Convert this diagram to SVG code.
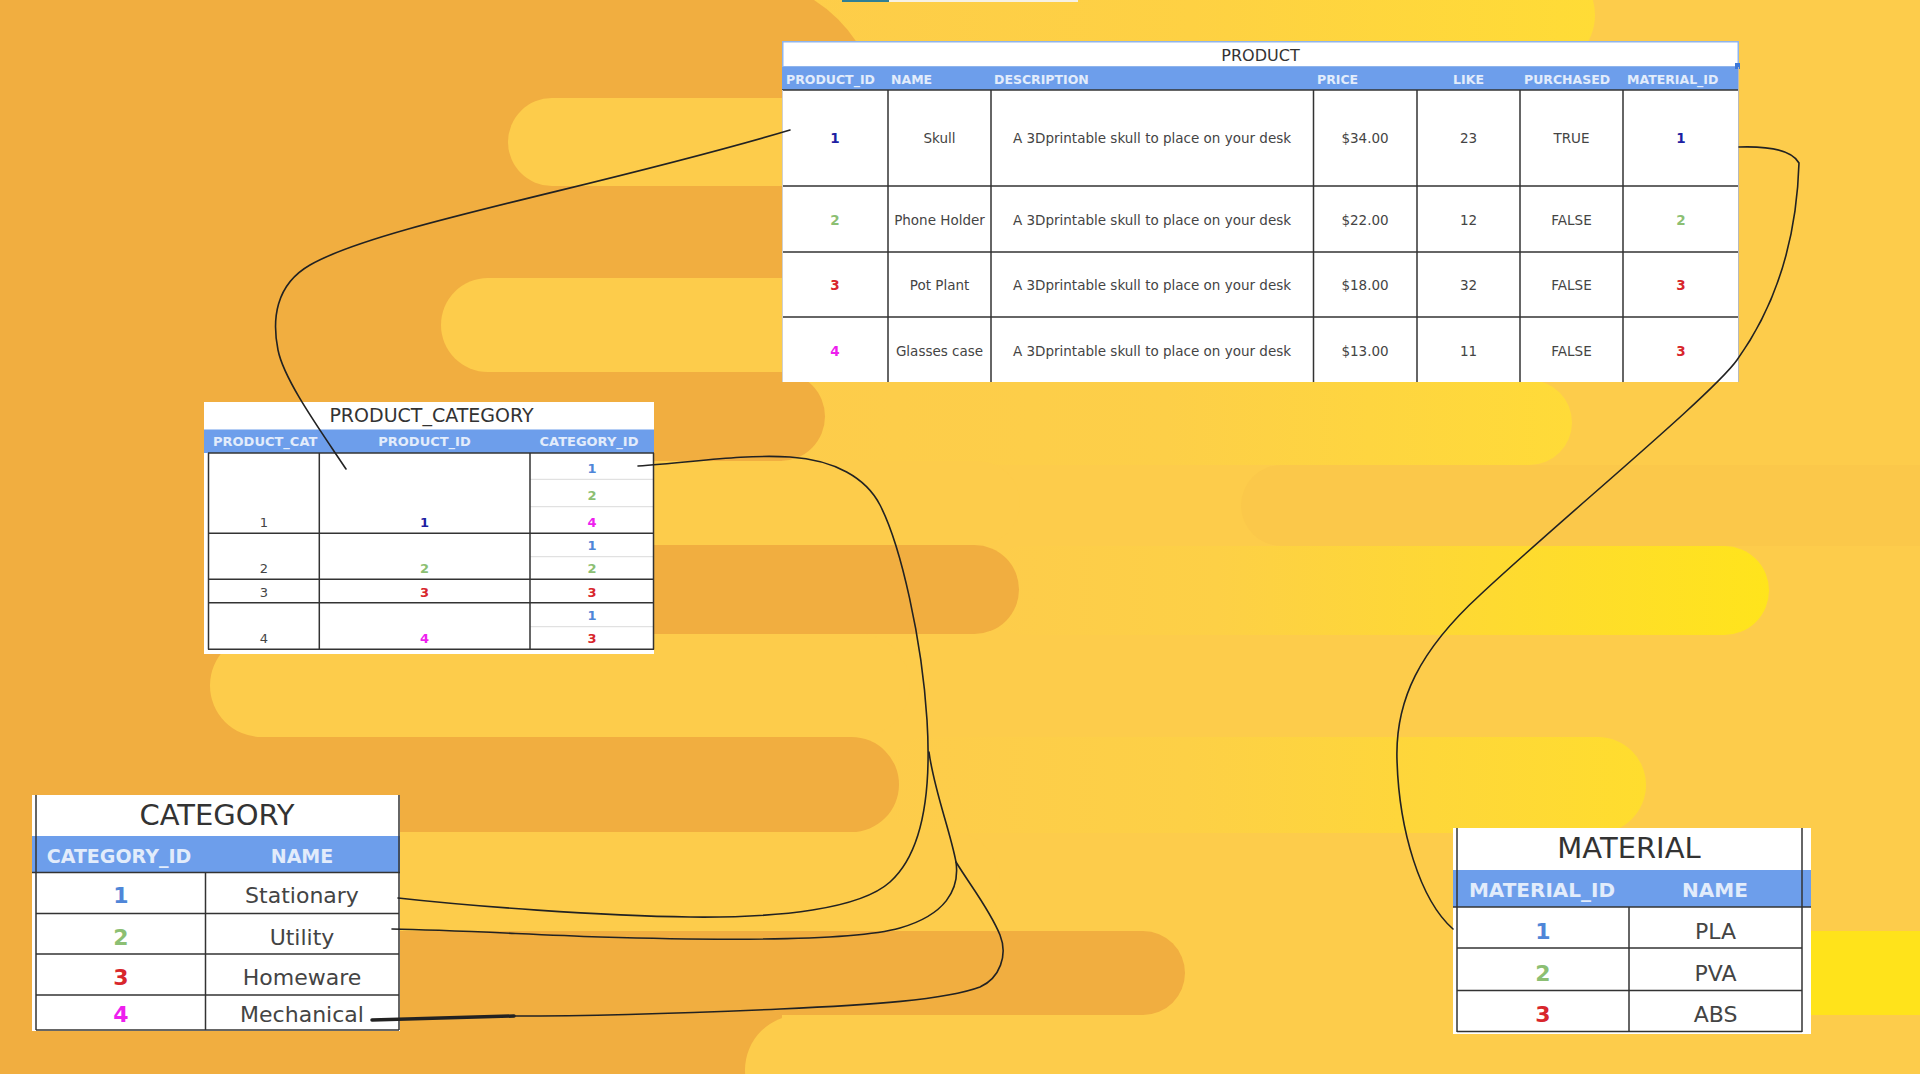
<svg xmlns="http://www.w3.org/2000/svg" width="1920" height="1074" viewBox="0 0 1920 1074">
<defs>
<style>
.t{font-family:"DejaVu Sans",Verdana,sans-serif}
.hdr{font-family:"DejaVu Sans",Verdana,sans-serif;font-weight:bold;fill:#e2ecfb}
.cell{font-family:"DejaVu Sans",Verdana,sans-serif;fill:#444}
.ttl{font-family:"DejaVu Sans",Verdana,sans-serif;fill:#333}
.id{font-family:"DejaVu Sans",Verdana,sans-serif;font-weight:bold}
.b1{fill:#1f1fa3}.lb{fill:#4f86d8}.g{fill:#8cbf73}.r{fill:#d8262c}.m{fill:#ee1fee}
.grid{stroke:#333;stroke-width:1.5;fill:none}
.thin{stroke:#555;stroke-width:1;fill:none}
.lgrid{stroke:#dadada;stroke-width:1;fill:none}
.band{fill:#6d9eeb}
.conn{fill:none;stroke:#222;stroke-width:1.6;stroke-linecap:round;stroke-linejoin:round}
.thick{stroke-width:3.5}
.ye{fill:#fdcc4b}.or{fill:#f1ae40}
</style>
<linearGradient id="gTop" x1="0" x2="1" y1="0" y2="0"><stop offset="0" stop-color="#fdcc4b"/><stop offset="0.55" stop-color="#fed143"/><stop offset="1" stop-color="#ffdc36"/></linearGradient>
<linearGradient id="gG1" x1="0" x2="1" y1="0" y2="0"><stop offset="0" stop-color="#fdcc4b"/><stop offset="0.5" stop-color="#fdcf48"/><stop offset="1" stop-color="#ffdb38"/></linearGradient>
<linearGradient id="gG3" x1="0" x2="1" y1="0" y2="0"><stop offset="0" stop-color="#fdcc4b"/><stop offset="0.3" stop-color="#fdd046"/><stop offset="1" stop-color="#ffe41c"/></linearGradient>
<linearGradient id="gG4" x1="0" x2="1" y1="0" y2="0"><stop offset="0" stop-color="#fdcc4b"/><stop offset="0.4" stop-color="#fdd046"/><stop offset="1" stop-color="#ffdd2e"/></linearGradient>
<clipPath id="clipPC"><rect x="209" y="430" width="109" height="23"/></clipPath>
</defs>

<g id="background">
<rect x="0" y="0" width="1920" height="1074" class="ye"/>
<rect x="700" y="-40" width="895" height="110" rx="55" fill="url(#gTop)"/>
<rect x="760" y="380" width="812" height="85" rx="42.5" fill="url(#gG1)"/>
<rect x="1241" y="465" width="800" height="81" rx="40.5" fill="#fbc84a"/>
<rect x="980" y="546" width="789" height="89" rx="44.5" fill="url(#gG3)"/>
<rect x="880" y="737" width="766" height="96" rx="48" fill="url(#gG4)"/>
<rect x="1760" y="931" width="300" height="84" rx="42" fill="#ffe31b"/>
<path class="or" d="M0,0 H814 A142,142 0 0 1 878,98 V186 H0 Z"/>
<rect x="0" y="0" width="782" height="1074" class="or"/>
<rect x="508" y="98" width="400" height="88" rx="44" class="ye"/>
<rect x="441" y="278" width="400" height="94" rx="47" class="ye"/>
<rect x="420" y="461" width="600" height="84" rx="42" class="ye"/>
<rect x="210" y="634" width="700" height="103" rx="51.5" class="ye"/>
<rect x="300" y="832" width="700" height="99" rx="49.5" class="ye"/>
<rect x="745" y="1015" width="1300" height="110" rx="55" class="ye"/>
<rect x="-100" y="372" width="925" height="89" rx="44.5" class="or"/>
<rect x="-100" y="545" width="1119" height="89" rx="44.5" class="or"/>
<rect x="-100" y="737" width="999" height="95" rx="47.5" class="or"/>
<rect x="-100" y="931" width="1285" height="84" rx="42" class="or"/>
<rect x="842" y="0" width="47" height="2" fill="#2f7f95"/>
<rect x="889" y="0" width="189" height="2" fill="#f6f1e4"/>
</g>

<g id="product">
<rect x="782" y="41" width="957" height="341" fill="#fff"/>
<rect x="782.75" y="41.75" width="955.5" height="25" fill="none" stroke="#8fb4ec" stroke-width="1.5"/>
<text x="1260.5" y="61" font-size="16" text-anchor="middle" class="ttl">PRODUCT</text>
<rect x="782" y="67" width="957" height="23" class="band"/>
<rect x="1735" y="63" width="5" height="6" fill="#3d78d8"/>
<g class="hdr" font-size="12.5">
<text x="786" y="84">PRODUCT_ID</text>
<text x="891" y="84">NAME</text>
<text x="994" y="84">DESCRIPTION</text>
<text x="1317" y="84">PRICE</text>
<text x="1468.5" y="84" text-anchor="middle">LIKE</text>
<text x="1524" y="84">PURCHASED</text>
<text x="1627" y="84">MATERIAL_ID</text>
</g>
<line x1="782" y1="90" x2="1739" y2="90" class="grid"/>
<g class="grid">
<line x1="888" y1="90" x2="888" y2="382"/>
<line x1="991" y1="90" x2="991" y2="382"/>
<line x1="1313.5" y1="90" x2="1313.5" y2="382"/>
<line x1="1417" y1="90" x2="1417" y2="382"/>
<line x1="1520" y1="90" x2="1520" y2="382"/>
<line x1="1623" y1="90" x2="1623" y2="382"/>
<line x1="782" y1="186" x2="1739" y2="186"/>
<line x1="782" y1="252" x2="1739" y2="252"/>
<line x1="782" y1="317" x2="1739" y2="317"/>
</g>
<line x1="782.5" y1="90" x2="782.5" y2="382" stroke="#cfcfcf" stroke-width="1"/>
<line x1="1738.5" y1="67" x2="1738.5" y2="382" stroke="#b9b9b9" stroke-width="1"/>
<g font-size="13.5" text-anchor="middle">
<text x="835" y="143" class="id b1">1</text>
<text x="939.5" y="143" class="cell">Skull</text>
<text x="1152" y="143" class="cell">A 3Dprintable skull to place on your desk</text>
<text x="1365" y="143" class="cell">$34.00</text>
<text x="1468.5" y="143" class="cell">23</text>
<text x="1571.5" y="143" class="cell">TRUE</text>
<text x="1681" y="143" class="id b1">1</text>
<text x="835" y="225" class="id g">2</text>
<text x="939.5" y="225" class="cell">Phone Holder</text>
<text x="1152" y="225" class="cell">A 3Dprintable skull to place on your desk</text>
<text x="1365" y="225" class="cell">$22.00</text>
<text x="1468.5" y="225" class="cell">12</text>
<text x="1571.5" y="225" class="cell">FALSE</text>
<text x="1681" y="225" class="id g">2</text>
<text x="835" y="290" class="id r">3</text>
<text x="939.5" y="290" class="cell">Pot Plant</text>
<text x="1152" y="290" class="cell">A 3Dprintable skull to place on your desk</text>
<text x="1365" y="290" class="cell">$18.00</text>
<text x="1468.5" y="290" class="cell">32</text>
<text x="1571.5" y="290" class="cell">FALSE</text>
<text x="1681" y="290" class="id r">3</text>
<text x="835" y="356" class="id m">4</text>
<text x="939.5" y="356" class="cell">Glasses case</text>
<text x="1152" y="356" class="cell">A 3Dprintable skull to place on your desk</text>
<text x="1365" y="356" class="cell">$13.00</text>
<text x="1468.5" y="356" class="cell">11</text>
<text x="1571.5" y="356" class="cell">FALSE</text>
<text x="1681" y="356" class="id r">3</text>
</g>
</g>

<g id="product_category">
<rect x="204" y="402" width="450" height="252" fill="#fff"/>
<text x="431.5" y="422" font-size="19" text-anchor="middle" class="ttl">PRODUCT_CATEGORY</text>
<rect x="204" y="429.5" width="450" height="23.5" class="band"/>
<g class="hdr" font-size="13">
<text x="213" y="446" clip-path="url(#clipPC)">PRODUCT_CAT</text>
<text x="424.5" y="446" text-anchor="middle">PRODUCT_ID</text>
<text x="589" y="446" text-anchor="middle">CATEGORY_ID</text>
</g>
<g class="lgrid">
<line x1="530" y1="479.3" x2="654" y2="479.3"/>
<line x1="530" y1="506.7" x2="654" y2="506.7"/>
<line x1="530" y1="556.7" x2="654" y2="556.7"/>
<line x1="530" y1="626.7" x2="654" y2="626.7"/>
</g>
<g class="grid">
<line x1="208" y1="453" x2="654" y2="453"/>
<line x1="208.5" y1="453" x2="208.5" y2="649.5"/>
<line x1="319.3" y1="453" x2="319.3" y2="649.5"/>
<line x1="530" y1="453" x2="530" y2="649.5"/>
<line x1="653.5" y1="453" x2="653.5" y2="649.5"/>
<line x1="208" y1="533.3" x2="654" y2="533.3"/>
<line x1="208" y1="579.3" x2="654" y2="579.3"/>
<line x1="208" y1="602.7" x2="654" y2="602.7"/>
<line x1="208" y1="649.3" x2="654" y2="649.3"/>
</g>
<g font-size="13" text-anchor="middle">
<text x="264" y="526.7" class="cell">1</text>
<text x="264" y="573.3" class="cell">2</text>
<text x="264" y="596.7" class="cell">3</text>
<text x="264" y="643.3" class="cell">4</text>
<text x="424.5" y="526.7" class="id b1">1</text>
<text x="424.5" y="573.3" class="id g">2</text>
<text x="424.5" y="596.7" class="id r">3</text>
<text x="424.5" y="643.3" class="id m">4</text>
<text x="592" y="473.3" class="id lb">1</text>
<text x="592" y="500" class="id g">2</text>
<text x="592" y="526.7" class="id m">4</text>
<text x="592" y="550" class="id lb">1</text>
<text x="592" y="573.3" class="id g">2</text>
<text x="592" y="596.7" class="id r">3</text>
<text x="592" y="620" class="id lb">1</text>
<text x="592" y="643.3" class="id r">3</text>
</g>
</g>

<g id="category">
<rect x="32" y="795" width="368" height="236" fill="#fff"/>
<text x="217" y="825" font-size="29" text-anchor="middle" class="ttl">CATEGORY</text>
<rect x="32" y="836" width="368" height="36" class="band"/>
<g class="hdr" font-size="19" text-anchor="middle">
<text x="119" y="862.5">CATEGORY_ID</text>
<text x="302" y="862.5">NAME</text>
</g>
<g class="grid">
<line x1="36" y1="795" x2="36" y2="1030"/>
<line x1="399" y1="795" x2="399" y2="1030"/>
<line x1="205.5" y1="872" x2="205.5" y2="1030"/>
<line x1="32" y1="872.5" x2="400" y2="872.5"/>
<line x1="36" y1="913.5" x2="399" y2="913.5"/>
<line x1="36" y1="954" x2="399" y2="954"/>
<line x1="36" y1="995" x2="399" y2="995"/>
<line x1="36" y1="1030" x2="399" y2="1030"/>
</g>
<g font-size="22" text-anchor="middle">
<text x="121" y="903" class="id lb">1</text>
<text x="302" y="903" class="cell">Stationary</text>
<text x="121" y="945" class="id g">2</text>
<text x="302" y="945" class="cell">Utility</text>
<text x="121" y="985" class="id r">3</text>
<text x="302" y="985" class="cell">Homeware</text>
<text x="121" y="1021.5" class="id m">4</text>
<text x="302" y="1021.5" class="cell">Mechanical</text>
</g>
</g>

<g id="material">
<rect x="1453" y="828" width="358" height="206" fill="#fff"/>
<text x="1629" y="858" font-size="29" text-anchor="middle" class="ttl">MATERIAL</text>
<rect x="1453" y="870" width="358" height="37" class="band"/>
<g class="hdr" font-size="20" text-anchor="middle">
<text x="1542" y="897">MATERIAL_ID</text>
<text x="1715" y="897">NAME</text>
</g>
<g class="grid">
<line x1="1457" y1="828" x2="1457" y2="1032"/>
<line x1="1802" y1="828" x2="1802" y2="1032"/>
<line x1="1629" y1="907" x2="1629" y2="1032"/>
<line x1="1453" y1="907" x2="1811" y2="907"/>
<line x1="1457" y1="948" x2="1802" y2="948"/>
<line x1="1457" y1="990.5" x2="1802" y2="990.5"/>
<line x1="1457" y1="1031.5" x2="1802" y2="1031.5"/>
</g>
<g font-size="22" text-anchor="middle">
<text x="1543" y="938.5" class="id lb">1</text>
<text x="1715.5" y="938.5" class="cell">PLA</text>
<text x="1543" y="980.5" class="id g">2</text>
<text x="1715.5" y="980.5" class="cell">PVA</text>
<text x="1543" y="1022" class="id r">3</text>
<text x="1715.5" y="1022" class="cell">ABS</text>
</g>
</g>

<g id="connectors">
<path class="conn" d="M790,130 C600,187 380,225 310,265 C275,285 272,320 278,350 C284,380 320,430 346,469"/>
<path class="conn" d="M638,466 C690,463 740,454 790,457 C835,460 866,478 880,505 C901,546 922,640 927,720 C932,800 920,855 890,882 C860,909 780,918 690,917 C600,916 470,906 398,898"/>
<path class="conn" d="M929,752 C934,790 950,830 956,862 C960,890 945,915 900,928 C850,942 700,940 600,937 C520,934 450,930 392,929"/>
<path class="conn" d="M956,862 C970,885 990,910 1000,935 C1008,955 1000,978 980,987 C945,1000 870,1005 780,1009 C690,1013 580,1016 514,1016"/>
<path class="conn thick" d="M514,1016 L372,1020"/>
<path class="conn" d="M1739,147 C1770,146 1792,150 1799,163 C1797,230 1780,300 1737,360 C1712,395 1560,520 1480,595 C1420,650 1395,700 1397,760 C1399,830 1420,900 1453,929"/>
</g>
</svg>
